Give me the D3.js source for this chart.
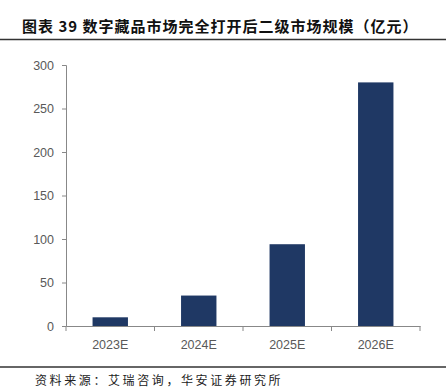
<!DOCTYPE html>
<html><head><meta charset="utf-8">
<script src="https://cdn.jsdelivr.net/npm/d3@7/dist/d3.min.js"></script>
<style>body{margin:0;background:#fff}</style>
</head><body>
<script>
const categories = ["2023E","2024E","2025E","2026E"];
const values = [10, 35, 94, 280];
const yTicks = [0,50,100,150,200,250,300];
const titleText = "图表 39 数字藏品市场完全打开后二级市场规模（亿元）";
const sourceText = "资料来源：艾瑞咨询，华安证券研究所";

const W = 446, H = 391;
const svg = d3.select("body").append("svg").attr("width", W).attr("height", H);
const x = d3.scaleBand().domain(categories).range([66, 420]).paddingInner(0.6).paddingOuter(0.3);
const y = d3.scaleLinear().domain([0,300]).range([326, 65]);

// title
svg.append("text").attr("x", 22).attr("y", 32)
  .attr("font-family", "'Noto Sans CJK SC', sans-serif").attr("font-weight", "bold")
  .attr("font-size", 15).attr("letter-spacing", 1).attr("fill", "#111").text(titleText);
svg.append("line").attr("x1", 0).attr("x2", W).attr("y1", 39.5).attr("y2", 39.5)
  .attr("stroke", "#333").attr("stroke-width", 1.3);

// bars
svg.selectAll("rect.bar").data(values).join("rect").attr("class","bar")
  .attr("x", (d,i) => x(categories[i])).attr("width", x.bandwidth())
  .attr("y", d => y(d)).attr("height", d => y(0) - y(d)).attr("fill", "#1f3864");

// y axis
const yAxis = svg.append("g").attr("transform", "translate(66,0)")
  .call(d3.axisLeft(y).tickValues(yTicks).tickSize(4).tickPadding(8));
// x axis
const xAxis = svg.append("g").attr("transform", `translate(0,${y(0)})`)
  .call(d3.axisBottom(x).tickSize(0).tickPadding(14));
const xb = d3.scaleLinear().domain([0,4]).range([66,420]);
svg.append("g").selectAll("line").data(d3.range(5)).join("line")
  .attr("x1", d => xb(d)).attr("x2", d => xb(d)).attr("y1", y(0)).attr("y2", y(0)+5)
  .attr("stroke", "#888");
[yAxis, xAxis].forEach(g => {
  g.selectAll("path.domain").attr("stroke", "#888");
  g.selectAll(".tick line").attr("stroke", "#888");
  g.selectAll("text").attr("font-family", "'Liberation Sans', Arial, sans-serif")
    .attr("font-size", 12.5).attr("fill", "#595959");
});

// bottom line and source
svg.append("line").attr("x1", 0).attr("x2", W).attr("y1", 367).attr("y2", 367)
  .attr("stroke", "#333").attr("stroke-width", 1.3);
svg.append("text").attr("x", 35).attr("y", 385)
  .attr("font-family", "'Noto Sans CJK SC', sans-serif")
  .attr("font-size", 12).attr("letter-spacing", 2.6).attr("fill", "#222").text(sourceText);
</script>
</body></html>
